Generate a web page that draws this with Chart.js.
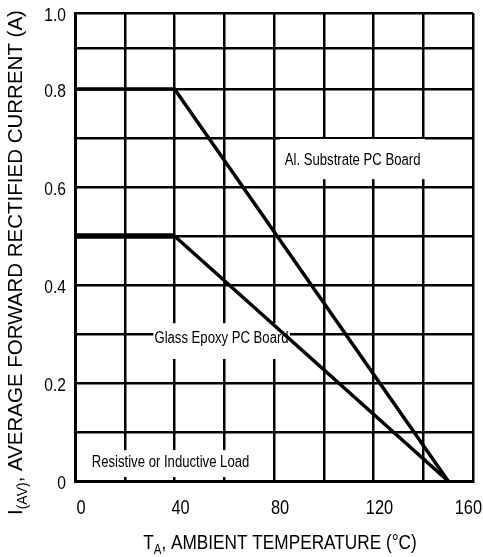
<!DOCTYPE html>
<html>
<head>
<meta charset="utf-8">
<script src="https://cdn.jsdelivr.net/npm/chart.js@4/dist/chart.umd.min.js"></script>
<style>
  body { margin: 0; background: #fff; }
  canvas { display: block; }
</style>
</head>
<body>
<canvas id="derating-chart" width="483" height="557"></canvas>
<script>
// temperature (C) and current (A)
const alTemps = [0, 40, 150];
const alCurrent = [0.8, 0.8, 0];
const glassTemps = [0, 40, 150];
const glassCurrent = [0.5, 0.5, 0];

const xTickValues = [0, 20, 40, 60, 80, 100, 120, 140, 160];
const xTickLabels = ['0', '', '40', '', '80', '', '120', '', '160'];
// the top of the original plot is squeezed, so the last two grid rows are shorter
const yGridValues = [0, 0.1, 0.2, 0.3, 0.4, 0.5, 0.6, 0.7, 0.8, 0.884, 0.955];
const yTickLabels = ['0', '', '0.2', '', '0.4', '', '0.6', '', '0.8', '', '1.0'];

const FONT = "'Liberation Sans', Arial, sans-serif";
const SQUEEZE = 0.82; // the datasheet type is a narrow Arial

// text notes inside the plot, with the white patch behind them (data units)
const notes = [
  { text: 'Al. Substrate PC Board', x: 111.6, y: 0.653, box: [82.4, 140.7, 0.698, 0.616] },
  { text: 'Glass Epoxy PC Board', x: 58.9, y: 0.29, box: [31.5, 86.4, 0.322, 0.249] },
  { text: 'Resistive or Inductive Load', x: 38.4, y: 0.037, box: [4, 72.4, 0.063, 0.008] }
];

function toPoints(xs, ys) {
  return xs.map((x, i) => ({ x: x, y: ys[i] }));
}

function partsWidth(ctx, parts, squeeze) {
  let w = 0;
  parts.forEach(p => { ctx.font = p[1] + 'px ' + FONT; w += ctx.measureText(p[0]).width; });
  return w * squeeze;
}

// parts: [text, size, shiftDown]; draws squeezed text with subscripts
function drawParts(ctx, parts, x, y, align, squeeze) {
  const w = partsWidth(ctx, parts, 1);
  let start = 0;
  if (align === 'center') start = -w / 2;
  if (align === 'right') start = -w;
  ctx.save();
  ctx.translate(x, y);
  ctx.scale(squeeze, 1);
  ctx.textAlign = 'left';
  let cx = start;
  parts.forEach(p => {
    ctx.font = p[1] + 'px ' + FONT;
    ctx.fillText(p[0], cx, p[2]);
    cx += ctx.measureText(p[0]).width;
  });
  ctx.restore();
}

const notesPlugin = {
  id: 'notes',
  beforeDatasetsDraw(chart) {
    const ctx = chart.ctx;
    const sx = chart.scales.x, sy = chart.scales.y;
    ctx.save();
    notes.forEach(n => {
      const x1 = sx.getPixelForValue(n.box[0]), x2 = sx.getPixelForValue(n.box[1]);
      const y1 = sy.getPixelForValue(n.box[2]), y2 = sy.getPixelForValue(n.box[3]);
      ctx.fillStyle = '#fff';
      ctx.fillRect(x1, y1, x2 - x1, y2 - y1);
    });
    ctx.fillStyle = '#000';
    ctx.textBaseline = 'middle';
    notes.forEach(n => {
      drawParts(ctx, [[n.text, 16, 0]], sx.getPixelForValue(n.x), sy.getPixelForValue(n.y), 'center', SQUEEZE);
    });
    ctx.restore();
  }
};

// tick labels and axis titles
const textPlugin = {
  id: 'axisText',
  afterDraw(chart) {
    const ctx = chart.ctx;
    const area = chart.chartArea;
    const sx = chart.scales.x, sy = chart.scales.y;
    ctx.save();
    ctx.fillStyle = '#000';

    ctx.textBaseline = 'middle';
    xTickValues.forEach((v, i) => {
      const label = xTickLabels[i];
      if (!label) return;
      const half = partsWidth(ctx, [[label, 20, 0]], SQUEEZE) / 2;
      const cx = Math.min(sx.getPixelForValue(v) + 6, chart.width - 1 - half);
      drawParts(ctx, [[label, 20, 0]], cx, 508, 'center', SQUEEZE);
    });
    yGridValues.forEach((v, i) => {
      if (yTickLabels[i]) drawParts(ctx, [[yTickLabels[i], 19, 0]], 66, sy.getPixelForValue(v) + 3, 'right', SQUEEZE);
    });

    ctx.textBaseline = 'alphabetic';
    drawParts(ctx, [['T', 21, 0], ['A', 14, 5], [', AMBIENT TEMPERATURE (\u00B0C)', 21, 0]],
      (area.left + area.right) / 2 + 6, 549, 'center', SQUEEZE);

    // y title, rotated
    ctx.translate(22, 515);
    ctx.rotate(-Math.PI / 2);
    drawParts(ctx, [['I', 20.5, 0], ['(AV)', 14, 5], [', AVERAGE FORWARD RECTIFIED CURRENT (A)', 20.5, 0]],
      0, 0, 'left', 1);
    ctx.restore();
  }
};

const ctx = document.getElementById('derating-chart').getContext('2d');
const chart = new Chart(ctx, {
  type: 'scatter',
  data: {
    datasets: [
      {
        label: 'Al. Substrate PC Board',
        data: toPoints(alTemps, alCurrent),
        showLine: true,
        borderColor: '#000',
        borderWidth: 3.5,
        pointRadius: 0
      },
      {
        label: 'Glass Epoxy PC Board',
        data: toPoints(glassTemps, glassCurrent),
        showLine: true,
        borderColor: '#000',
        borderWidth: 3.5,
        pointRadius: 0,
        segment: {
          borderWidth: c => c.p0DataIndex === 0 ? 5.5 : 3.5
        }
      }
    ]
  },
  options: {
    responsive: false,
    animation: false,
    layout: { padding: { top: 13, right: 10, left: 0, bottom: 0 } },
    plugins: {
      legend: { display: false },
      tooltip: { enabled: false }
    },
    scales: {
      x: {
        type: 'linear',
        min: 0,
        max: 160,
        afterFit: s => { s.height = 76; s.paddingLeft = 0; s.paddingRight = 0; },
        afterBuildTicks: s => { s.ticks = xTickValues.map(v => ({ value: v })); },
        ticks: { display: false },
        grid: { color: '#000', lineWidth: 2.5, drawTicks: false },
        border: { color: '#000', width: 3 }
      },
      y: {
        type: 'linear',
        min: 0,
        max: 0.955,
        afterFit: s => { s.width = 75; s.paddingTop = 0; s.paddingBottom = 0; },
        afterBuildTicks: s => { s.ticks = yGridValues.map(v => ({ value: v })); },
        ticks: { display: false },
        grid: { color: '#000', lineWidth: 2.5, drawTicks: false },
        border: { color: '#000', width: 3 }
      }
    }
  },
  plugins: [notesPlugin, textPlugin]
});
</script>
</body>
</html>
